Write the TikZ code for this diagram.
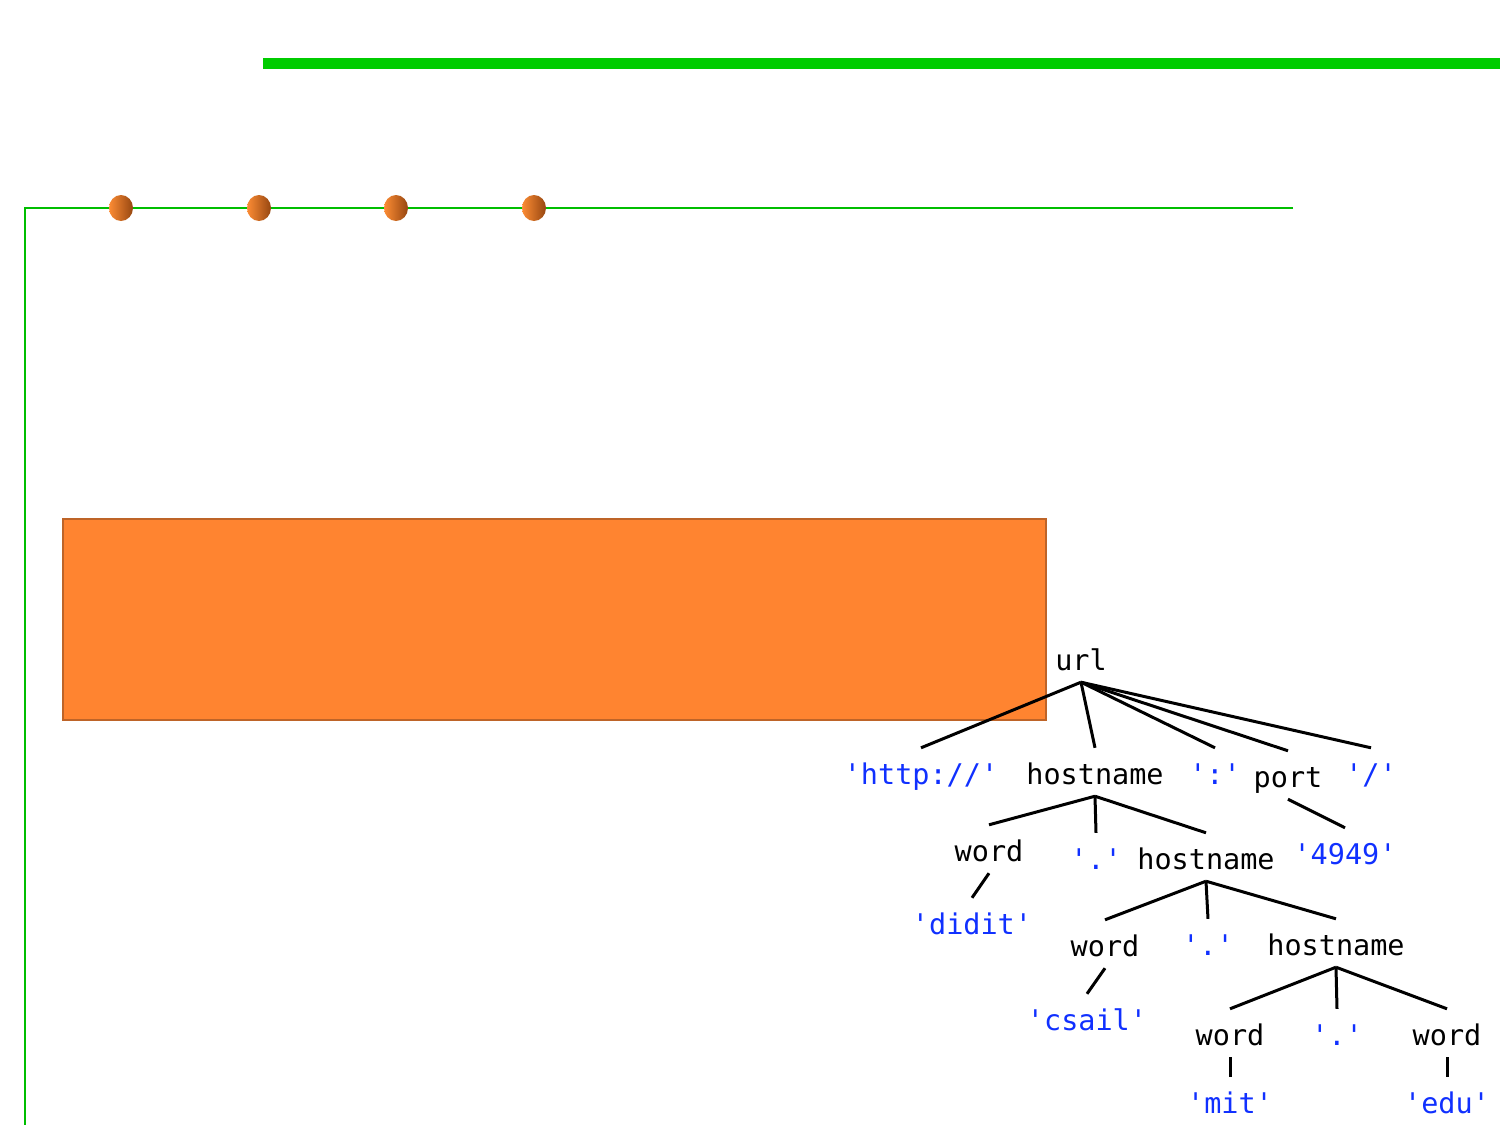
\documentclass[tikz,border=0pt]{standalone}
\usepackage{fontspec}
\usetikzlibrary{shapes.geometric}
\setmonofont{DejaVu Sans Mono}
\definecolor{bargreen}{RGB}{0,204,0}
\definecolor{linegreen}{RGB}{0,190,0}
\definecolor{boxorange}{RGB}{255,132,48}
\definecolor{boxedge}{RGB}{190,100,40}
\definecolor{dotlight}{RGB}{252,140,52}
\definecolor{dotdark}{RGB}{150,70,16}
\definecolor{litblue}{RGB}{16,48,255}
\begin{document}
\begin{tikzpicture}[x=1pt,y=-1pt,
  tn/.style={font=\ttfamily\fontsize{28.5}{32}\selectfont, inner sep=0pt,
             text height=21pt, text depth=0pt, anchor=base},
  lit/.style={tn, text=litblue},
  br/.style={line width=3pt, black},
  bead/.style={ellipse, minimum width=24pt, minimum height=26pt, inner sep=0pt,
               left color=dotlight, right color=dotdark, draw=none}
]
\useasboundingbox (0,0) rectangle (1500,1125);

% frame lines
\fill[bargreen] (263,58) rectangle (1500,69);
\draw[linegreen, line width=2pt] (1293,208) -- (25,208) -- (25,1125);

% beads on the rule
\foreach \i/\x in {1/121,2/259,3/396,4/534}
  \node[bead] (bead\i) at (\x,208) {};

% orange panel
\node[draw=boxedge, fill=boxorange, line width=1.5pt, inner sep=0pt,
      minimum width=983pt, minimum height=201pt, anchor=north west] (panel) at (62,518) {};

% parse tree nodes
\node[tn]  (url)   at (1081,670) {url};
\node[lit] (http)  at (921,784)  {'http://'};
\node[tn]  (host1) at (1095,784) {hostname};
\node[lit] (colon) at (1215,784) {':'};
\node[tn]  (port)  at (1288,787) {port};
\node[lit] (slash) at (1371,784) {'/'};
\node[tn]  (word1) at (989,861)  {word};
\node[lit] (dot1)  at (1096,869) {'.'};
\node[tn]  (host2) at (1206,869) {hostname};
\node[lit] (num)   at (1345,864) {'4949'};
\node[lit] (didit) at (972,934)  {'didit'};
\node[tn]  (word2) at (1105,956) {word};
\node[lit] (dot2)  at (1208,955) {'.'};
\node[tn]  (host3) at (1336,955) {hostname};
\node[lit] (csail) at (1087,1030) {'csail'};
\node[tn]  (word3) at (1230,1045) {word};
\node[lit] (dot3)  at (1337,1045) {'.'};
\node[tn]  (word4) at (1447,1045) {word};
\node[lit] (mit)   at (1230,1113) {'mit'};
\node[lit] (edu)   at (1447,1113) {'edu'};

% branches
\foreach \p/\c in {url/http,url/host1,url/colon,url/port,url/slash,
                   host1/word1,host1/dot1,host1/host2,port/num,word1/didit,
                   host2/word2,host2/dot2,host2/host3,word2/csail,
                   host3/word3,host3/dot3,host3/word4,word3/mit,word4/edu}
  \draw[br] ([yshift=-12pt]\p.south) -- ([yshift=15pt]\c.north);
\end{tikzpicture}
\end{document}
